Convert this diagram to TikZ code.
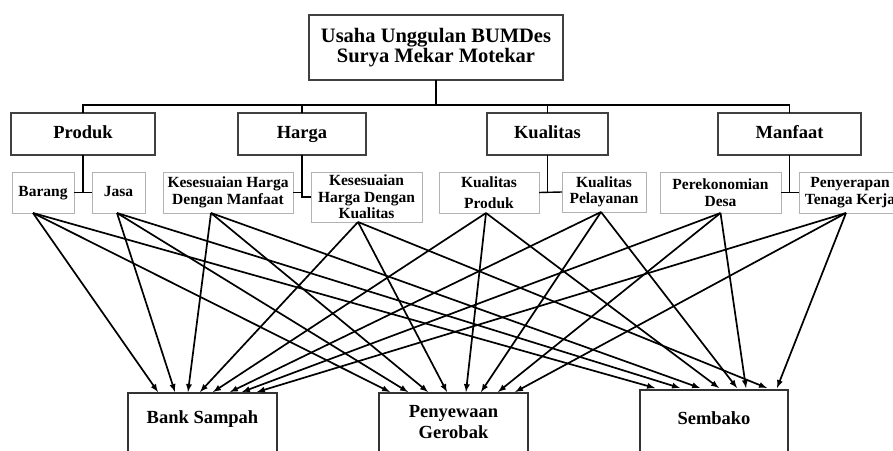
\documentclass[tikz,border=0pt]{standalone}
\usepackage{fontspec}
\setmainfont{Liberation Serif}
\usetikzlibrary{positioning}
\begin{document}
\begin{tikzpicture}[x=1pt,y=-1pt,
  head/.style={draw=black!75,line width=1.6pt,inner sep=0pt,outer sep=0pt,align=center,font=\fontsize{20.5}{20}\selectfont\bfseries},
  aspect/.style={draw=black!75,line width=1.6pt,inner sep=0pt,outer sep=0pt,minimum height=42pt,text height=13pt,text depth=4pt,font=\fontsize{18.5}{20}\selectfont\bfseries},
  sub/.style={draw=black!30,line width=0.9pt,inner sep=0pt,outer sep=0pt,minimum height=41pt,align=center,font=\fontsize{15.5}{16.5}\selectfont\bfseries},
  word/.style={sub,align=none,text height=11pt,text depth=3.5pt},
  unit/.style={draw=black!80,line width=1.4pt,anchor=north,outer sep=0pt,minimum height=100pt},
  unittext/.style={align=center,inner sep=0pt,font=\fontsize{18.5}{21}\selectfont\bfseries},
  link/.style={line width=1.4pt},
  arrow/.style={-latex,line width=1.7pt}]

\useasboundingbox (0,0) rectangle (893,450);
\clip (0,0) rectangle (893,450);

\node[head,minimum width=254pt,minimum height=65pt] (top) at (436,47.5) {Usaha Unggulan BUMDes\\Surya Mekar Motekar};

\node[aspect,minimum width=144pt] (produk) at (83,134) {Produk};
\node[aspect,minimum width=128pt] (harga) at (302,134) {Harga};
\node[aspect,minimum width=121pt] (kualitas) at (547.5,134) {Kualitas};
\node[aspect,minimum width=143pt] (manfaat) at (789.5,134) {Manfaat};

\node[word,minimum width=62pt] (barang) at (43,192.5) {Barang};
\node[word,minimum width=53pt] (jasa) at (118.5,192.5) {Jasa};
\node[sub,minimum width=130pt] (khdm) at (228,192.5) {Kesesuaian Harga\\Dengan Manfaat};
\node[sub,minimum width=111pt,minimum height=50pt] (khdk) at (366.5,197) {Kesesuaian\\Harga Dengan\\Kualitas};
\node[sub,minimum width=100pt] (kp) at (489,192.5) {Kualitas\\[4pt]Produk};
\node[sub,minimum width=84pt,minimum height=40pt] (kpel) at (604,192) {Kualitas\\Pelayanan};
\node[sub,minimum width=121pt] (pd) at (720.5,192.5) {Perekonomian\\Desa};
\node[sub,minimum width=102pt] (ptk) at (850,192.5) {Penyerapan\\Tenaga Kerja};

\node[unit,minimum width=149pt] (bank) at (202.5,393) {};
\node[unit,minimum width=149pt] (sewa) at (453.5,393) {};
\node[unit,minimum width=148pt] (sembako) at (714,390) {};
\node[unittext] (banktext) at (202.5,419) {Bank Sampah};
\node[unittext] (sewatext) at (453.5,422.5) {Penyewaan\\Gerobak};
\node[unittext] (sembakotext) at (714,418) {Sembako};

% tree lines
\coordinate (bar) at (436,105);
\draw[link] (top.south) -- (bar);
\draw[link] (produk.north) |- (bar) -| (manfaat.north);
\draw[link] (harga.north) -- (harga.north |- bar);
\draw[link] (kualitas.north) -- (kualitas.north |- bar);

\foreach \up/\left/\right in {produk/barang/jasa, kualitas/kp/kpel, manfaat/pd/ptk} {
    \draw[link] (\up.south) -- (\up.south |- \left.east);
    \draw[link] (\left.east) -- (\right.west);
}
\draw[link] (harga.south) |- (khdk.west);
\draw[link] (khdm.east) -- (khdm.east -| harga.south);

% arrows to the units
\foreach \src/\dx/\a/\b/\c in {barang/-10/-44.5/-63.5/-59, jasa/-1.5/-27.5/-45.5/-34, khdm/-17/-14.5/-25.5/-14, khdk/-8.5/-2.5/-6.5/53, kp/-3/10.5/12.5/5, kpel/-3/27.5/27.5/23, pd/0/39.5/44.5/32, ptk/-4/54.5/61.5/63} {
    \draw[arrow] ([xshift=\dx pt]\src.south) -- ([xshift=\a pt,yshift=1pt]bank.north);
    \draw[arrow] ([xshift=\dx pt]\src.south) -- ([xshift=\b pt,yshift=1pt]sewa.north);
    \draw[arrow] ([xshift=\dx pt]\src.south) -- ([xshift=\c pt,yshift=2pt]sembako.north);
}
\end{tikzpicture}
\end{document}
